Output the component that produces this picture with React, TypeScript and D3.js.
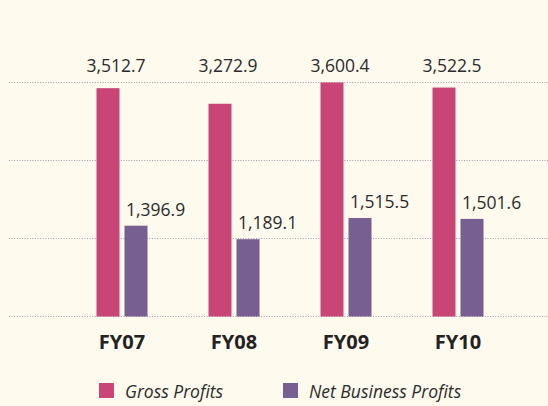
import React from "react";
import * as d3 from "d3";

const categories = ["FY07", "FY08", "FY09", "FY10"];
const grossProfits = [3512.7, 3272.9, 3600.4, 3522.5];
const netBusinessProfits = [1396.9, 1189.1, 1515.5, 1501.6];
const gridTicks = [0, 1200, 2400, 3600];
const seriesNames = ["Gross Profits", "Net Business Profits"];

const W = 548;
const H = 406;
const PINK = "#c84575";
const PURPLE = "#775f91";
const BG = "#fffaee";
const TEXT = "#2b2b2b";
const FONT = "'Open Sans', 'Noto Sans', sans-serif";

export default function App() {
  const x = d3.scaleBand<string>().domain(categories).range([66, 514]).paddingInner(0).paddingOuter(0);
  const y = d3.scaleLinear().domain([0, 3600]).range([316.5, 82.5]);
  const fmt = d3.format(",.1f");
  const barW = 23;
  const gap = 5;

  return (
    <div style={{ position: "absolute", left: 0, top: 0 }}>
      <svg width={W} height={H} style={{ display: "block", background: BG }}>
        <rect x={0} y={0} width={W} height={H} fill={BG} />
        {gridTicks.map((t) => (
          <line
            key={t}
            x1={9}
            x2={W}
            y1={y(t)}
            y2={y(t)}
            stroke="#a392b2"
            strokeWidth={1}
            strokeDasharray="1,1.6"
          />
        ))}
        {categories.map((c, i) => {
          const cx = (x(c) as number) + x.bandwidth() / 2;
          const pinkX = cx - gap / 2 - barW;
          const purpleX = cx + gap / 2;
          const g = grossProfits[i];
          const n = netBusinessProfits[i];
          return (
            <g key={c}>
              <rect x={pinkX} y={y(g)} width={barW} height={y(0) - y(g)} fill={PINK} />
              <rect x={purpleX} y={y(n)} width={barW} height={y(0) - y(n)} fill={PURPLE} />
              <text
                x={pinkX + barW / 2 + 8}
                y={72}
                textAnchor="middle"
                fontFamily={FONT}
                fontSize={17.5}
                fill={TEXT}
              >
                {fmt(g)}
              </text>
              <text
                x={purpleX + 1.5}
                y={y(n) - 10}
                textAnchor="start"
                fontFamily={FONT}
                fontSize={17.5}
                fill={TEXT}
              >
                {fmt(n)}
              </text>
              <text
                x={cx}
                y={348.5}
                textAnchor="middle"
                fontFamily={FONT}
                fontWeight="bold"
                fontSize={20}
                fill="#222"
              >
                {c}
              </text>
            </g>
          );
        })}
        {seriesNames.map((s, i) => {
          const lx = i === 0 ? 99 : 283;
          return (
            <g key={s}>
              <rect x={lx} y={383} width={15} height={15} fill={i === 0 ? PINK : PURPLE} />
              <text
                x={lx + 26}
                y={397.5}
                fontFamily={FONT}
                fontStyle="italic"
                fontSize={17.5}
                fill={TEXT}
              >
                {s}
              </text>
            </g>
          );
        })}
      </svg>
    </div>
  );
}
